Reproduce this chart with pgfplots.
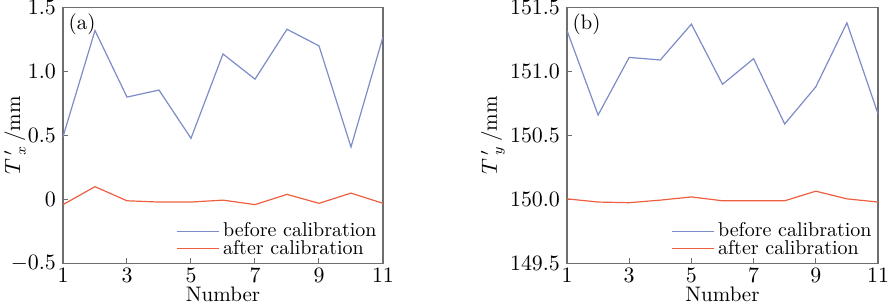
\documentclass[border=0pt]{standalone}
\usepackage{pgfplots}
\pgfplotsset{compat=1.18}
\definecolor{cblue}{RGB}{125,140,200}
\definecolor{cred}{RGB}{238,95,65}
\definecolor{axgray}{RGB}{110,110,110}
\pgfplotsset{myax/.style={
  scale only axis, width=160pt, height=128pt,
  xmin=1, xmax=11, xtick={1,3,...,11},
  tick align=inside, major tick length=2.5pt,
  axis line style={axgray, line width=0.6pt},
  tick style={axgray, line width=0.5pt},
  xtick pos=bottom, ytick pos=left,
  tick label style={font=\fontsize{10.5}{12}\selectfont},
  xticklabel style={yshift=1pt},
  label style={font=\fontsize{10.5}{12}\selectfont},
  xlabel={Number},
  xlabel style={at={(rel axis cs:0.5,0)}, anchor=base, yshift=-18.8pt},
  legend style={draw=none, fill=none, at={(1,0.0)}, anchor=south east,
    font=\fontsize{10}{10}\selectfont, row sep=-4pt, inner sep=1pt},
  legend cell align=left,
  legend image code/.code={\draw[#1] (0pt,0pt) -- (21pt,0pt);},
  every axis plot/.append style={line width=0.6pt, no markers},
}}
\begin{document}
\begin{tikzpicture}
\begin{axis}[myax,
  ymin=-0.5, ymax=1.5, ytick={-0.5,0,0.5,1.0,1.5},
  yticklabels={$-0.5$,$0$,$0.5$,$1.0$,$1.5$},
  ylabel={$T\,'_{x}$\,/mm},
  ylabel style={at={(rel axis cs:0,0.5)}, yshift=24pt, anchor=center}]
\addplot[cblue] coordinates {(1,0.49) (2,1.32) (3,0.80) (4,0.855) (5,0.478) (6,1.137) (7,0.94) (8,1.33) (9,1.20) (10,0.41) (11,1.27)};
\addplot[cred] coordinates {(1,-0.04) (2,0.10) (3,-0.01) (4,-0.02) (5,-0.02) (6,-0.005) (7,-0.04) (8,0.04) (9,-0.03) (10,0.05) (11,-0.03)};
\legend{before calibration, after calibration}
\node[anchor=north west, font=\fontsize{10.5}{12}\selectfont, inner sep=1pt] at (rel axis cs:0.01,0.985) {(a)};
\end{axis}
\begin{axis}[myax, at={(252pt,0pt)}, width=155.5pt,
  ymin=149.5, ymax=151.5, ytick={149.5,150,...,151.5},
  yticklabel style={/pgf/number format/.cd, fixed, fixed zerofill, precision=1, 1000 sep={}},
  ylabel={$T\,'_{y}$\,/mm},
  ylabel style={at={(rel axis cs:0,0.5)}, yshift=37pt, anchor=center}]
\addplot[cblue] coordinates {(1,151.32) (2,150.66) (3,151.11) (4,151.09) (5,151.37) (6,150.90) (7,151.10) (8,150.59) (9,150.88) (10,151.38) (11,150.67)};
\addplot[cred] coordinates {(1,150.005) (2,149.98) (3,149.975) (4,149.995) (5,150.02) (6,149.99) (7,149.99) (8,149.99) (9,150.065) (10,150.005) (11,149.98)};
\legend{before calibration, after calibration}
\node[anchor=north west, font=\fontsize{10.5}{12}\selectfont, inner sep=1pt] at (rel axis cs:0.01,0.985) {(b)};
\end{axis}
\pgfresetboundingbox
\path (-31.5pt,-20pt) rectangle (416.5pt,131.75pt);
\end{tikzpicture}
\end{document}
